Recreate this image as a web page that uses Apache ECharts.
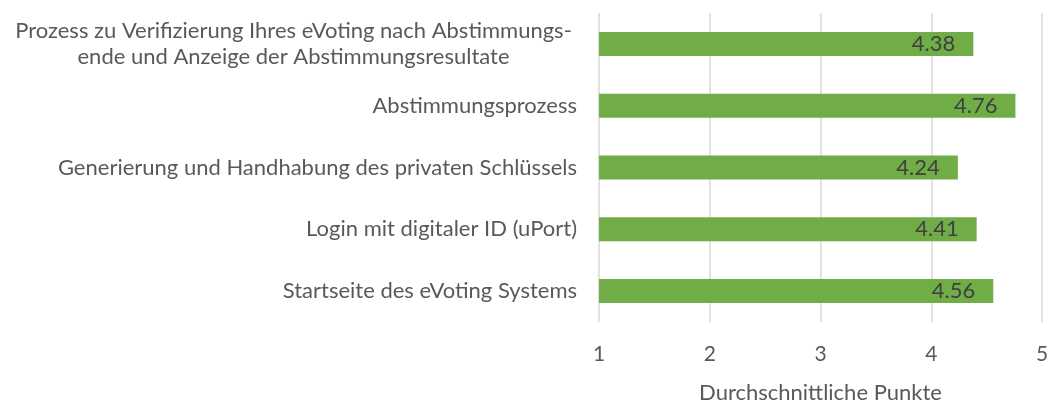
<!DOCTYPE html>
<html lang="de">
<head>
    <meta charset="UTF-8">
    <title>Durchschnittliche Punkte</title>
    <script src="https://cdn.jsdelivr.net/npm/echarts@6/dist/echarts.min.js"></script>
    <style>
        html, body { margin: 0; padding: 0; background: #fff; }
        #chart { width: 1049px; height: 403px; }
    </style>
</head>
<body>
<div id="chart"></div>
<script>
    // Kategorien von unten nach oben (wie die Achse sie zeichnet)
    var categories = [
        'Startseite des eVoting Systems',
        'Login mit digitaler ID (uPort)',
        'Generierung und Handhabung des privaten Schlüssels',
        'Abstimmungsprozess',
        'Prozess zu Verifizierung Ihres eVoting nach Abstimmungs-\nende und Anzeige der Abstimmungsresultate'
    ];
    var scores = [4.56, 4.41, 4.24, 4.76, 4.38];
    var xTicks = [1, 2, 3, 4, 5];
    var xTitle = 'Durchschnittliche Punkte';

    var font = 'Lato, "Open Sans", sans-serif';
    var chart = echarts.init(document.getElementById('chart'));

    var option = {
        animation: false,
        grid: { left: 599, right: 7, top: 13, bottom: 81, containLabel: false, outerBoundsMode: 'none' },
        xAxis: {
            type: 'value',
            min: xTicks[0],
            max: xTicks[xTicks.length - 1],
            interval: 1,
            name: xTitle,
            nameLocation: 'middle',
            nameGap: 60,
            nameTextStyle: { color: '#595959', fontSize: 22, fontFamily: font },
            axisLine: { show: false },
            axisTick: { show: false },
            axisLabel: { color: '#595959', fontSize: 21, fontFamily: font, margin: 22 },
            splitLine: { show: true, lineStyle: { color: '#d9d9d9', width: 1.5 } }
        },
        yAxis: {
            type: 'category',
            data: categories,
            axisLine: { show: false },
            axisTick: { show: false },
            axisLabel: {
                color: '#595959',
                fontSize: 22,
                fontFamily: font,
                margin: 22,
                lineHeight: 26,
                formatter: function (v) {
                    if (v.indexOf('\n') >= 0) {
                        return v.split('\n').map(function (s) { return '{c|' + s + '}'; }).join('\n');
                    }
                    return v;
                },
                rich: {
                    c: { width: 567, align: 'center', color: '#595959', fontSize: 22, fontFamily: font, lineHeight: 26 }
                }
            }
        },
        series: [{
            type: 'bar',
            data: scores,
            barWidth: 24,
            itemStyle: { color: '#70ad47' },
            label: {
                show: true,
                position: 'insideRight',
                distance: 18,
                color: '#404040',
                fontSize: 22,
                fontFamily: font
            }
        }]
    };

    chart.setOption(option);
</script>
</body>
</html>
